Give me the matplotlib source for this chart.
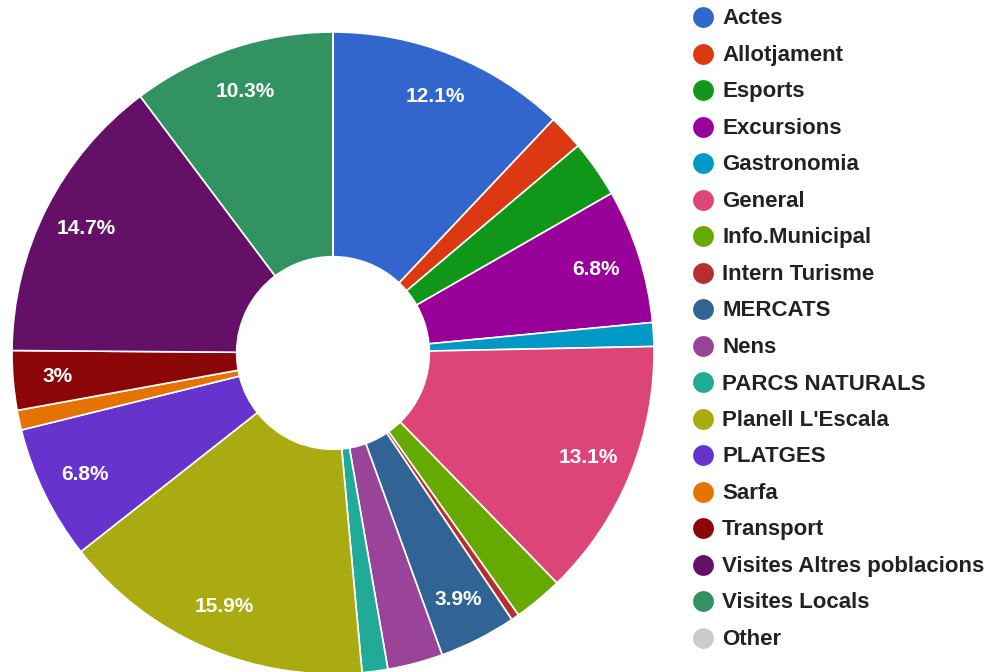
import matplotlib
matplotlib.use("Agg")
import matplotlib.pyplot as plt
import numpy as np

categories = ["Actes", "Allotjament", "Esports", "Excursions", "Gastronomia", "General",
              "Info.Municipal", "Intern Turisme", "MERCATS", "Nens", "PARCS NATURALS",
              "Planell L'Escala", "PLATGES", "Sarfa", "Transport",
              "Visites Altres poblacions", "Visites Locals", "Other"]
values = [12.1, 1.8, 2.9, 6.8, 1.2, 13.1, 2.5, 0.4, 3.9, 2.8, 1.3,
          15.9, 6.8, 1.0, 3.0, 14.7, 10.3, 0.0]
colors = ["#3366cc", "#dc3912", "#109618", "#990099", "#0099c6", "#dd4477",
          "#66aa00", "#b82e2e", "#316395", "#994499", "#22aa99", "#aaaa11",
          "#6633cc", "#e67300", "#8b0707", "#651067", "#329262", "#cccccc"]

W, H = 993, 672
fig = plt.figure(figsize=(W / 100, H / 100), dpi=100)

# pie axes: center (333,353) px, radius 321 px
cx, cy, R = 333, 353, 321
ax = fig.add_axes([(cx - R) / W, (H - cy - R) / H, 2 * R / W, 2 * R / H])

hole = 0.30
wedges, _ = ax.pie(values, colors=colors, startangle=90, counterclock=False,
                   radius=1.0, normalize=True,
                   wedgeprops=dict(width=1 - hole, edgecolor="white", linewidth=1.2))
ax.set_xlim(-1, 1)
ax.set_ylim(-1, 1)
ax.set_aspect("equal")
ax.axis("off")

total = sum(values)
cum = 0.0
for v in values:
    if v >= 3.0:
        mid = (cum + v / 2) / total * 2 * np.pi
        r = 0.86
        x = r * np.sin(mid)
        y = r * np.cos(mid)
        txt = f"{v:.1f}".rstrip("0").rstrip(".") + "%"
        ax.text(x, y, txt, ha="center", va="center", color="white",
                fontsize=15, fontweight="bold", family="Liberation Sans")
    cum += v

# legend
lax = fig.add_axes([0, 0, 1, 1])
lax.set_xlim(0, W)
lax.set_ylim(H, 0)
lax.axis("off")
y0, dy = 17, 36.5
for i, (name, c) in enumerate(zip(categories, colors)):
    y = y0 + i * dy
    lax.plot([703], [y], marker="o", markersize=15, color=c, markeredgewidth=0)
    lax.text(722, y + 2, name, ha="left", va="center", color="#222222",
             fontsize=16, fontweight="bold", family="Liberation Sans")

fig.savefig("out.png", dpi=100, facecolor="white")
